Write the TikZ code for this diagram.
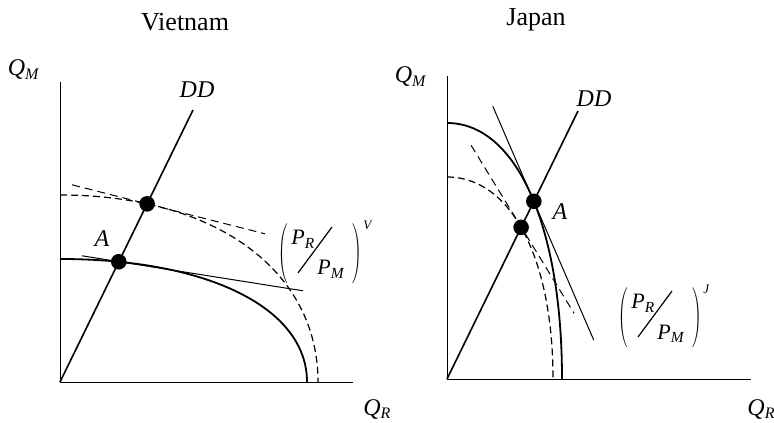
\documentclass[tikz,border=0pt]{standalone}
\usepackage{amsmath}
\usepackage{graphicx}
\usepackage{fontspec}
\setmainfont{Liberation Serif}
\usetikzlibrary{intersections,calc}

% quantity / price with subscript
\newcommand{\qsub}[2]{\textit{#1}\textsubscript{\textit{#2}}}
% relative price label: name, left point, country
\newcommand{\pricelabel}[3]{%
    \node[paren, anchor=west] (#1lpar) at (#2) {\scalebox{0.6}[1]{$\Biggl($}};
    \node[plbl, anchor=base west] (#1pr) at ($(#2)+(13,8.5)$) {\qsub{P}{R}};
    \draw[line width=0.6pt] ($(#2)+(20,-19.5)$) coordinate (#1sa) -- ($(#2)+(54,26.5)$) coordinate (#1sb);
    \node[plbl, anchor=base west] (#1pm) at ($(#2)+(39,-21.5)$) {\qsub{P}{M}};
    \node[paren, anchor=west] (#1rpar) at ($(#2)+(74,0)$) {\scalebox{0.6}[1]{$\Biggr)$}};
    \node[slbl, anchor=north west] (#1sup) at ($(#2)+(85,33)$) {\textit{#3}};
}

\begin{document}
\begin{tikzpicture}[x=0.5pt, y=0.5pt,
    axis/.style={line width=0.5pt},
    ddline/.style={line width=0.8pt},
    ppf/.style={line width=0.9pt},
    ppfnew/.style={line width=0.6pt, dash pattern=on 3.5pt off 2pt},
    price/.style={line width=0.5pt},
    pricenew/.style={line width=0.5pt, dash pattern=on 4pt off 2.5pt},
    dot/.style={circle, fill=black, inner sep=0pt, minimum size=7.8pt},
    lbl/.style={font=\fontsize{12}{14}\selectfont, inner sep=0pt},
    plbl/.style={font=\fontsize{11}{13}\selectfont, inner sep=0pt},
    slbl/.style={font=\fontsize{6.5}{8}\selectfont, inner sep=0pt},
    paren/.style={font=\fontsize{10}{12}\selectfont, inner sep=0pt},
    ttl/.style={font=\fontsize{13}{15}\selectfont, inner sep=0pt}]
    \useasboundingbox (0,0) rectangle (774,422);

    % ---------- Vietnam ----------
    \coordinate (OV) at (60,40);
    \coordinate (YV) at (60,340);
    \coordinate (XV) at (353,40);
    \coordinate (DDV) at (193,312);
    % Axes
    \draw[axis] (YV) -- (OV) -- (XV);
    % Consumption ray
    \draw[ddline, name path=ddv] (OV) -- (DDV);
    % Production possibilities
    \draw[ppf, name path=ppfv] (60,163) .. controls +(148,0) and +(0,74) .. (307,40);
    \draw[ppfnew, name path=ppfvnew] (60,227) .. controls +(155,0) and +(0,112) .. (318,40);
    % Equilibrium points
    \path[name intersections={of=ddv and ppfv, by=av}];
    \path[name intersections={of=ddv and ppfvnew, by=bv}];
    \node[dot] (dotav) at (av) {};
    \node[dot] (dotbv) at (bv) {};
    % Price lines
    \draw[price] (dotav.center) ++(-37,6) -- ++(221,-35);
    \draw[pricenew] (dotbv.center) ++(-75,19) -- ++(193,-49);

    % Labels
    \node[ttl] (ttlv) at (185,400) {Vietnam};
    \node[lbl] (qmv) at (24,352) {\qsub{Q}{M}};
    \node[lbl, anchor=west] (qrv) at (363,13) {\qsub{Q}{R}};
    \node[lbl] (ddlv) at (197,332) {\textit{DD}};
    \node[lbl] (alv) at (102,183) {\textit{A}};
    \coordinate (pv) at (278,168.5);
    \pricelabel{pv}{pv}{V}

    % ---------- Japan ----------
    \coordinate (OJ) at (447,43);
    \coordinate (YJ) at (447,346);
    \coordinate (XJ) at (751,43);
    \coordinate (DDJ) at (578,311);
    % Axes
    \draw[axis] (YJ) -- (OJ) -- (XJ);
    % Consumption ray
    \draw[ddline, name path=ddj] (OJ) -- (DDJ);
    % Production possibilities
    \draw[ppf, name path=ppfj] (447,299) .. controls +(69,0) and +(0,154) .. (562,43);
    \draw[ppfnew, name path=ppfjnew] (447,245) .. controls +(64,0) and +(0,121) .. (553,43);
    % Equilibrium points
    \path[name intersections={of=ddj and ppfj, by=aj}];
    \path[name intersections={of=ddj and ppfjnew, by=bj}];
    \node[dot] (dotaj) at (aj) {};
    \node[dot] (dotbj) at (bj) {};
    % Price lines
    \draw[price] (dotaj.center) ++(-41,95) -- ++(101,-234);
    \draw[pricenew] (dotbj.center) ++(-50,82) -- ++(103,-168);

    % Labels
    \node[ttl] (ttlj) at (536,402) {Japan};
    \node[lbl] (qmj) at (411,345) {\qsub{Q}{M}};
    \node[lbl, anchor=west] (qrj) at (747,13) {\qsub{Q}{R}};
    \node[lbl] (ddlj) at (594,323) {\textit{DD}};
    \node[lbl] (alj) at (560,210) {\textit{A}};
    \coordinate (pj) at (618,104.5);
    \pricelabel{pj}{pj}{J}
\end{tikzpicture}
\end{document}
